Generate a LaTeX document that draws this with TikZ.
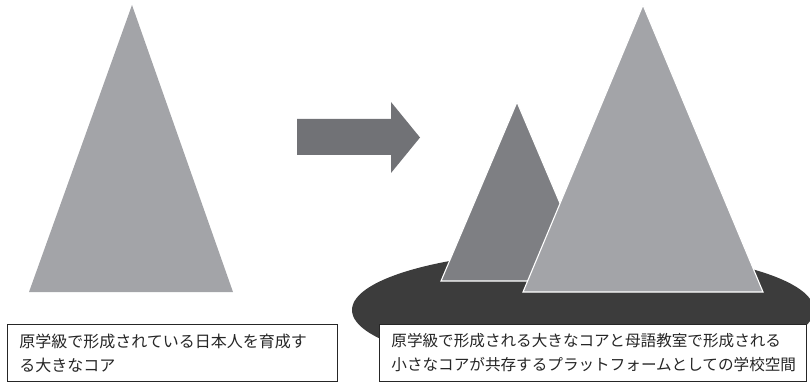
\documentclass[tikz,border=0pt]{standalone}
\usepackage{fontspec}
\newfontfamily\jp{Noto Sans CJK JP}
\definecolor{tri}{HTML}{A3A4A8}
\definecolor{tridark}{HTML}{7E7F83}
\definecolor{arrowc}{HTML}{717276}
\definecolor{platform}{HTML}{3C3C3C}
\definecolor{txt}{HTML}{262626}
\tikzset{
  capbox/.style={draw=black!85, line width=0.8pt, fill=white, anchor=north west,
    minimum height=57pt, inner xsep=12pt, inner ysep=0pt, align=left, text=txt,
    font=\jp\fontsize{16pt}{24pt}\selectfont},
  trishape/.style={fill=tri},
  outlined/.style={draw=white, line width=1.1pt, line join=miter}
}
\begin{document}
\begin{tikzpicture}[x=1pt,y=-1pt]
\useasboundingbox (0,0) rectangle (810,387);
% left big core
\fill[trishape] (132,5) -- (233,292) -- (29,292) -- cycle;
% arrow
\fill[arrowc] (297,119) -- (391,119) -- (391,102) -- (420,137.5) -- (391,173) -- (391,155) -- (297,155) -- cycle;
% platform
\fill[platform] (583,310) ellipse [x radius=231pt, y radius=60pt];
% small core
\filldraw[fill=tridark, outlined] (517,102) -- (593,281) -- (441,281) -- cycle;
% big core
\filldraw[trishape, outlined] (643,5) -- (763,292) -- (523,292) -- cycle;
% captions
\node[capbox, minimum width=330pt, text width=306pt] (capL) at (7,324)
  {原学級で形成されている日本人を育成す\\る大きなコア};
\node[capbox, minimum width=427pt, text width=403pt, font=\jp\fontsize{15.6pt}{24pt}\selectfont] (capR) at (379,324)
  {原学級で形成される大きなコアと母語教室で形成される\\小さなコアが共存するプラットフォームとしての学校空間};
\end{tikzpicture}
\end{document}
